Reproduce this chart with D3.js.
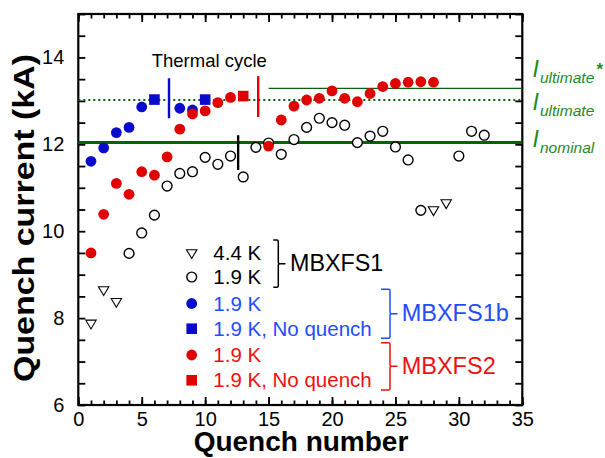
<!DOCTYPE html>
<html>
<head>
<meta charset="utf-8">
<script src="https://cdn.jsdelivr.net/npm/d3@7"></script>
<style>
  body { margin: 0; background: #fff; }
  svg { display: block; font-family: "Liberation Sans", Arial, sans-serif; }
</style>
</head>
<body>
<script>
// Quench training data, [quench number, current in kA]
var mbxfs1_44K = [[1, 7.87], [2, 8.64], [3, 8.37], [28, 10.48], [29, 10.64]];
var mbxfs1_19K = [[4, 9.49], [5, 9.96], [6, 10.37], [7, 11.04], [8, 11.33], [9, 11.37], [10, 11.70],
  [11, 11.54], [12, 11.73], [13, 11.25], [14, 11.93], [15, 12.03], [16, 11.77], [17, 12.11],
  [18, 12.39], [19, 12.60], [20, 12.50], [21, 12.44], [22, 12.04], [23, 12.19], [24, 12.30],
  [25, 11.94], [26, 11.64], [27, 10.48], [30, 11.73], [31, 12.30], [32, 12.21]];
var mbxfs1b_19K = [[1, 11.61], [2, 11.92], [3, 12.27], [4, 12.39], [5, 12.86], [8, 12.83], [9, 12.79]];
var mbxfs1b_noQuench = [[6, 13.03], [10, 13.03]];
var mbxfs2_19K = [[1, 9.50], [2, 10.39], [3, 11.10], [4, 10.85], [5, 11.37], [6, 11.29], [7, 11.71],
  [8, 12.35], [9, 12.70], [10, 12.77], [11, 12.96], [12, 13.08], [15, 11.96], [16, 12.56],
  [17, 12.88], [18, 13.02], [19, 13.06], [20, 13.23], [21, 13.06], [22, 12.98], [23, 13.17],
  [24, 13.33], [25, 13.40], [26, 13.43], [27, 13.44], [28, 13.43]];
var mbxfs2_noQuench = [[13, 13.11]];

// thermal cycle markers: [quench number, from kA, to kA]
var cycleBlue = [7.15, 12.60, 13.52];
var cycleRed = [14.18, 12.63, 13.57];
var cycleBlack = [12.6, 11.41, 12.21];

// reference currents (kA)
var iNominal = 12.04, iUltimate = 13.02, iUltimateStar = 13.29, iUltimateStarFrom = 15;

var xTicksMajor = [0, 5, 10, 15, 20, 25, 30, 35];
var yTickLabels = [6, 8, 10, 12, 14];

var width = 605, height = 458;
var blue = "#0a0acc", red = "#e00000";
var blueText = "#1f4dff", redText = "#f01010";
var greenLine = "#0b600b", greenText = "#1f8a1f";

var svg = d3.select("body").append("svg")
  .attr("width", width)
  .attr("height", height);

var x = d3.scaleLinear().domain([0, 35]).range([78.3, 522.3]);
var y = d3.scaleLinear().domain([6, 15]).range([405, 14]);

// axes, ticks pointing in
var xMinor = d3.range(0, 36, 1);
var yMinor = d3.range(6, 15.01, 0.5);

svg.append("g")
  .attr("transform", "translate(0," + y(6) + ")")
  .call(d3.axisBottom(x).tickValues(xMinor).tickSize(-4.5).tickSizeOuter(0).tickFormat(""));
svg.append("g")
  .attr("transform", "translate(0," + y(6) + ")")
  .call(d3.axisBottom(x).tickValues(xTicksMajor).tickSize(-8).tickSizeOuter(0).tickPadding(7));
svg.append("g")
  .attr("transform", "translate(0," + y(15) + ")")
  .call(d3.axisTop(x).tickValues(xMinor).tickSize(-4.5).tickSizeOuter(0).tickFormat(""));
svg.append("g")
  .attr("transform", "translate(0," + y(15) + ")")
  .call(d3.axisTop(x).tickValues(xTicksMajor).tickSize(-8).tickSizeOuter(0).tickFormat(""));
svg.append("g")
  .attr("transform", "translate(" + x(0) + ",0)")
  .call(d3.axisLeft(y).tickValues(yMinor).tickSize(-7).tickSizeOuter(0).tickPadding(14)
    .tickFormat(function(d) { return yTickLabels.indexOf(d) >= 0 ? d : ""; }));
svg.append("g")
  .attr("transform", "translate(" + x(35) + ",0)")
  .call(d3.axisRight(y).tickValues(yMinor).tickSize(-7).tickSizeOuter(0).tickFormat(""));

svg.selectAll(".domain").remove();
svg.selectAll(".tick line").attr("stroke", "#000").attr("stroke-width", 1.8);
svg.selectAll(".tick text")
  .attr("fill", "#000")
  .style("font-size", "20px")
  .style("font-family", "'Liberation Sans', Arial, sans-serif");

// frame
svg.append("rect")
  .attr("x", x(0)).attr("y", y(15))
  .attr("width", x(35) - x(0)).attr("height", y(6) - y(15))
  .attr("fill", "none").attr("stroke", "#000").attr("stroke-width", 2.2);

// reference lines
svg.append("line")
  .attr("x1", x(0)).attr("x2", x(35)).attr("y1", y(iNominal)).attr("y2", y(iNominal))
  .attr("stroke", greenLine).attr("stroke-width", 3);
svg.append("line")
  .attr("x1", x(0)).attr("x2", x(35)).attr("y1", y(iUltimate)).attr("y2", y(iUltimate))
  .attr("stroke", greenLine).attr("stroke-width", 1.8).attr("stroke-dasharray", "2,3");
svg.append("line")
  .attr("x1", x(iUltimateStarFrom)).attr("x2", x(35)).attr("y1", y(iUltimateStar)).attr("y2", y(iUltimateStar))
  .attr("stroke", greenLine).attr("stroke-width", 1.3);

// thermal cycle bars
[[cycleBlue, blue], [cycleRed, red], [cycleBlack, "#000"]].forEach(function(c) {
  svg.append("line")
    .attr("x1", x(c[0][0])).attr("x2", x(c[0][0]))
    .attr("y1", y(c[0][1])).attr("y2", y(c[0][2]))
    .attr("stroke", c[1]).attr("stroke-width", 2.4);
});

svg.append("text")
  .attr("x", 151.7).attr("y", 66.7)
  .style("font-size", "18.5px")
  .text("Thermal cycle");

// markers
var triPath = "M-5.2,-3.6L5.2,-3.6L0,5.2Z";
var circ = d3.symbol().type(d3.symbolCircle).size(Math.PI * 5.4 * 5.4)();
var sq = d3.symbol().type(d3.symbolSquare).size(10.6 * 10.6)();

function plot(data, shape, fill, stroke, sw) {
  svg.append("g").selectAll("path")
    .data(data)
    .enter().append("path")
    .attr("d", shape)
    .attr("transform", function(d) { return "translate(" + x(d[0]) + "," + y(d[1]) + ")"; })
    .attr("fill", fill)
    .attr("stroke", stroke)
    .attr("stroke-width", sw);
}

var openCirc = d3.symbol().type(d3.symbolCircle).size(Math.PI * 4.9 * 4.9)();
plot(mbxfs1_44K, triPath, "#fff", "#000", 1.1);
plot(mbxfs1_19K, openCirc, "#fff", "#000", 1.4);
plot(mbxfs1b_19K, circ, blue, "none", 0);
plot(mbxfs1b_noQuench, sq, blue, "none", 0);
plot(mbxfs2_19K, circ, red, "none", 0);
plot(mbxfs2_noQuench, sq, red, "none", 0);

// legend
var legendRows = [
  { shape: triPath, fill: "#fff", stroke: "#000", sw: 1.1, label: "4.4 K", color: "#000", cy: 253.3 },
  { shape: openCirc, fill: "#fff", stroke: "#000", sw: 1.4, label: "1.9 K", color: "#000", cy: 277 },
  { shape: circ, fill: blue, stroke: "none", sw: 0, label: "1.9 K", color: blueText, cy: 303.5 },
  { shape: sq, fill: blue, stroke: "none", sw: 0, label: "1.9 K, No quench", color: blueText, cy: 328.7 },
  { shape: circ, fill: red, stroke: "none", sw: 0, label: "1.9 K", color: redText, cy: 355 },
  { shape: sq, fill: red, stroke: "none", sw: 0, label: "1.9 K, No quench", color: redText, cy: 380.3 }
];
var leg = svg.append("g").selectAll("g").data(legendRows).enter().append("g");
leg.append("path")
  .attr("d", function(d) { return d.shape; })
  .attr("transform", function(d) { return "translate(191.7," + d.cy + ")"; })
  .attr("fill", function(d) { return d.fill; })
  .attr("stroke", function(d) { return d.stroke; })
  .attr("stroke-width", function(d) { return d.sw; });
leg.append("text")
  .attr("x", 213.3)
  .attr("y", function(d) { return d.cy + 7; })
  .attr("fill", function(d) { return d.color; })
  .style("font-size", "20.5px")
  .text(function(d) { return d.label; });

// braces with group names
function brace(bx, y0, y1, arm, tip, color) {
  var ym = (y0 + y1) / 2;
  var p = "M" + (bx - arm) + "," + y0 + "H" + (bx - 1.5) + "Q" + bx + "," + y0 + " " + bx + "," + (y0 + 1.5) +
    "V" + (ym - 1.5) + "Q" + bx + "," + ym + " " + (bx + 1.5) + "," + ym + "H" + tip +
    "M" + (bx + 1.5) + "," + ym + "Q" + bx + "," + ym + " " + bx + "," + (ym + 1.5) +
    "V" + (y1 - 1.5) + "Q" + bx + "," + y1 + " " + (bx - 1.5) + "," + y1 + "H" + (bx - arm);
  svg.append("path").attr("d", p).attr("fill", "none").attr("stroke", color).attr("stroke-width", 1.5);
}
brace(278.3, 240, 287.3, 5, 285.5, "#000");
brace(390, 289.3, 338.3, 9, 397.5, blueText);
brace(390, 342.7, 390, 9, 397.5, redText);

svg.append("text").attr("x", 290).attr("y", 270.5).style("font-size", "23.3px").text("MBXFS1");
svg.append("text").attr("x", 401.7).attr("y", 320.5).attr("fill", blueText).style("font-size", "23.5px").text("MBXFS1b");
svg.append("text").attr("x", 401.7).attr("y", 373.5).attr("fill", redText).style("font-size", "23.5px").text("MBXFS2");

// current labels on the right
var refLabels = [
  { sub: "ultimate", base: 76.7, star: true },
  { sub: "ultimate", base: 110, star: false },
  { sub: "nominal", base: 146.7, star: false }
];
refLabels.forEach(function(r) {
  svg.append("text").attr("x", 532.5).attr("y", r.base)
    .attr("fill", greenText).style("font-size", "23px").style("font-style", "italic").text("I");
  svg.append("text").attr("x", 540).attr("y", r.base + 6.3)
    .attr("fill", greenText).style("font-size", "15.5px").style("font-style", "italic").text(r.sub);
  if (r.star) {
    svg.append("text").attr("x", 596.5).attr("y", r.base - 2)
      .attr("fill", greenText).style("font-size", "17px").style("font-weight", "bold").text("*");
  }
});

// axis titles
svg.append("text")
  .attr("x", 301).attr("y", 450.7)
  .attr("text-anchor", "middle")
  .style("font-size", "28px").style("font-weight", "bold")
  .text("Quench number");
svg.append("text")
  .attr("transform", "translate(33.5,218) rotate(-90)")
  .attr("text-anchor", "middle")
  .attr("textLength", 328).attr("lengthAdjust", "spacingAndGlyphs")
  .style("font-size", "29px").style("font-weight", "bold")
  .text("Quench current (kA)");
</script>
</body>
</html>
